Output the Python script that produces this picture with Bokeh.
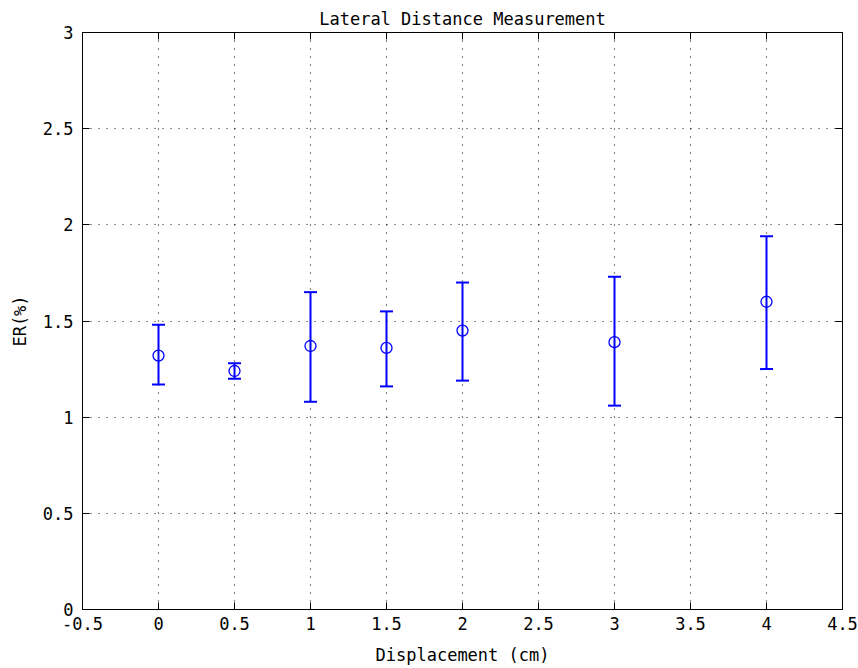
from bokeh.plotting import figure
from bokeh.models import (Range1d, FixedTicker, LinearAxis, Whisker, TeeHead,
                          ColumnDataSource, CustomLabelingPolicy)
from bokeh.embed import file_html
from bokeh.resources import INLINE

# ---- data ----
displacement = [0, 0.5, 1, 1.5, 2, 3, 4]
er_mean = [1.32, 1.24, 1.37, 1.36, 1.45, 1.39, 1.60]
er_lower = [1.17, 1.20, 1.08, 1.16, 1.19, 1.06, 1.25]
er_upper = [1.48, 1.28, 1.65, 1.55, 1.70, 1.73, 1.94]

x_ticks = [-0.5, 0, 0.5, 1, 1.5, 2, 2.5, 3, 3.5, 4, 4.5]
x_tick_labels = ["-0.5", "0", "0.5", "1", "1.5", "2", "2.5", "3", "3.5", "4", "4.5"]
y_ticks = [0, 0.5, 1, 1.5, 2, 2.5, 3]
y_tick_labels = ["0", "0.5", "1", "1.5", "2", "2.5", "3"]

FONT = "DejaVu Sans Mono"
BLUE = "#0000ff"

src = ColumnDataSource(dict(x=displacement, y=er_mean, lo=er_lower, hi=er_upper))

p = figure(width=858, height=668, output_backend="svg", toolbar_location=None,
           x_range=Range1d(-0.5, 4.5), y_range=Range1d(0, 3),
           min_border_left=82, min_border_right=16, min_border_top=32, min_border_bottom=59,
           title="Lateral Distance Measurement")

p.title.align = "center"
p.title.text_font = FONT
p.title.text_font_size = "17px"
p.title.text_font_style = "normal"
p.title.text_color = "black"
p.title.standoff = 7

p.outline_line_color = "black"
p.outline_line_width = 1
p.background_fill_color = "white"
p.border_fill_color = "white"

for ax in (p.xaxis[0], p.yaxis[0]):
    ax.major_tick_in = 7
    ax.major_tick_out = 0
    ax.minor_tick_in = 0
    ax.minor_tick_out = 0
    ax.axis_line_color = "black"
    ax.major_tick_line_color = "black"
    ax.major_label_text_font = FONT
    ax.major_label_text_font_size = "17px"
    ax.major_label_text_color = "black"
    ax.axis_label_text_font = FONT
    ax.axis_label_text_font_size = "17px"
    ax.axis_label_text_font_style = "normal"
    ax.axis_label_text_color = "black"

p.xaxis[0].ticker = FixedTicker(ticks=x_ticks)
p.xaxis[0].major_label_overrides = {t: l for t, l in zip(x_ticks, x_tick_labels)}
p.xaxis[0].axis_label = "Displacement (cm)"
p.xaxis[0].major_label_standoff = 7
p.xaxis[0].axis_label_standoff = 12

p.yaxis[0].ticker = FixedTicker(ticks=y_ticks)
p.yaxis[0].major_label_overrides = {t: l for t, l in zip(y_ticks, y_tick_labels)}
p.yaxis[0].axis_label = "ER(%)"
p.yaxis[0].major_label_standoff = 9
p.yaxis[0].axis_label_standoff = 10

# box axes (top/right) with inward ticks only, no labels
no_labels = CustomLabelingPolicy(code="""
for (const i of indices)
    indices.unset(i)
return indices
""")
for loc, ticks in (("above", x_ticks), ("right", y_ticks)):
    a = LinearAxis(ticker=FixedTicker(ticks=ticks), major_label_policy=no_labels)
    a.major_label_overrides = {t: "" for t in ticks}
    a.major_tick_in = 7
    a.major_tick_out = 0
    a.minor_tick_in = 0
    a.minor_tick_out = 0
    a.major_label_standoff = 0
    a.axis_line_color = "black"
    a.major_tick_line_color = "black"
    p.add_layout(a, loc)

p.xgrid.ticker = FixedTicker(ticks=x_ticks)
p.ygrid.ticker = FixedTicker(ticks=y_ticks)
for g in (p.xgrid[0], p.ygrid[0]):
    g.grid_line_color = "black"
    g.grid_line_dash = "1 7"
    g.grid_line_width = 1.2
    g.grid_line_alpha = 0.9

w = Whisker(source=src, base="x", lower="lo", upper="hi", dimension="height",
            line_color=BLUE, line_width=2,
            upper_head=TeeHead(size=13, line_color=BLUE, line_width=2),
            lower_head=TeeHead(size=13, line_color=BLUE, line_width=2))
p.add_layout(w)

p.scatter("x", "y", source=src, marker="circle", size=11, fill_color=None,
          line_color=BLUE, line_width=1.3)

open("out.html", "w").write(file_html(p, INLINE))
